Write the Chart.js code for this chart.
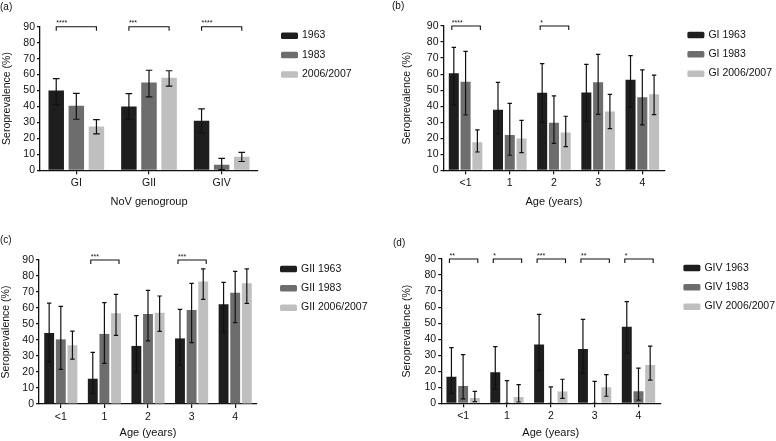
<!DOCTYPE html>
<html>
<head>
<meta charset="utf-8">
<script src="https://cdn.jsdelivr.net/npm/chart.js@4.4.1/dist/chart.umd.min.js"></script>
<style>
  html, body { margin: 0; padding: 0; background: #fff; }
  body { width: 776px; height: 441px; position: relative; overflow: hidden; }
  canvas { position: absolute; }
</style>
</head>
<body>
<canvas id="chartA" width="388" height="218" style="left:0;top:0"></canvas>
<canvas id="chartB" width="388" height="218" style="left:388px;top:0"></canvas>
<canvas id="chartC" width="388" height="223" style="left:0;top:218px"></canvas>
<canvas id="chartD" width="388" height="223" style="left:388px;top:218px"></canvas>
<script>
// panel (a): by genogroup
const genogroups = ['GI', 'GII', 'GIV'];
const a1963 = [50, 40, 31];
const a1963Lo = [41, 32, 23.5];
const a1963Hi = [57.5, 48, 38.5];
const a1983 = [40.5, 55, 3.5];
const a1983Lo = [32, 46, 0.5];
const a1983Hi = [48.2, 62.7, 7.5];
const a2006 = [27.5, 58, 8.5];
const a2006Lo = [22.8, 52.8, 5.5];
const a2006Hi = [31.8, 62.4, 11.2];
const aSig = ['****', '***', '****'];

// age groups used by (b), (c), (d)
const ages = ['<1', '1', '2', '3', '4'];

// panel (b): GI
const b1963 = [60.5, 37.8, 48.4, 48.6, 56.5];
const b1963Lo = [40.7, 22.5, 29.9, 30.4, 39.3];
const b1963Hi = [76.7, 54.9, 66.5, 66.1, 71.5];
const b1983 = [55.3, 22, 29.7, 54.9, 45.5];
const b1983Lo = [34.5, 9.4, 16.8, 34.9, 28.3];
const b1983Hi = [74.2, 41.8, 46.4, 72.3, 62.6];
const b2006 = [17.5, 19.8, 23.5, 36.6, 47.4];
const b2006Lo = [11.4, 11, 14.8, 26, 34.7];
const b2006Hi = [25.2, 31.2, 33.7, 47.4, 59.3];
const bSig = ['****', '', '*', '', ''];

// panel (c): GII
const c1963 = [44.4, 15.8, 36.3, 41, 62.3];
const c1963Lo = [26.3, 6.5, 19.8, 24.2, 44.8];
const c1963Hi = [63.1, 32.3, 55.2, 59.2, 76];
const c1983 = [40.4, 43.8, 56.3, 58.8, 69.6];
const c1983Lo = [21.7, 25.4, 39.4, 38.3, 50.8];
const c1983Hi = [61, 63.3, 71, 75.4, 82.9];
const c2006 = [36.7, 56.7, 57.1, 76.5, 75.4];
const c2006Lo = [28.1, 42.9, 45.4, 65.4, 62.9];
const c2006Hi = [45.6, 68.5, 67.5, 84.4, 84.4];
const cSig = ['', '***', '', '***', ''];

// panel (d): GIV
const d1963 = [16.6, 19.3, 36.6, 33.9, 47.8];
const d1963Lo = [6, 8.7, 20.4, 18.7, 31.2];
const d1963Hi = [34.7, 35.3, 55.5, 52.4, 63.4];
const d1983 = [10.8, 0, 0, 0, 7.5];
const d1983Lo = [2.7, 0, 0, 0, 2];
const d1983Hi = [30.4, 14.1, 10.2, 13.7, 22];
const d2006 = [3.3, 4, 7.3, 10, 23.9];
const d2006Lo = [1, 0.8, 3.1, 4.4, 14.5];
const d2006Hi = [7.5, 11.6, 15, 17.9, 35.6];
const dSig = ['**', '*', '***', '**', '*'];

const barColors = ['#1e1e1e', '#6d6d6d', '#bfbfbf'];
const ink = '#111';
const fontFamily = '"Liberation Sans", Arial, Helvetica, sans-serif';

const errorBars = {
    id: 'errorBars',
    afterDatasetsDraw(chart, args, opts) {
        const { ctx } = chart;
        const yScale = chart.scales.y;
        ctx.save();
        ctx.strokeStyle = ink;
        ctx.lineWidth = 1.2;
        chart.data.datasets.forEach((ds, di) => {
            chart.getDatasetMeta(di).data.forEach((bar, i) => {
                const yLo = yScale.getPixelForValue(ds.errLo[i]);
                const yHi = yScale.getPixelForValue(ds.errHi[i]);
                ctx.beginPath();
                ctx.moveTo(bar.x, yLo);
                ctx.lineTo(bar.x, yHi);
                ctx.moveTo(bar.x - opts.cap, yHi);
                ctx.lineTo(bar.x + opts.cap, yHi);
                ctx.moveTo(bar.x - opts.cap, yLo);
                ctx.lineTo(bar.x + opts.cap, yLo);
                ctx.stroke();
            });
        });
        ctx.restore();
    }
};

const sigBrackets = {
    id: 'sigBrackets',
    afterDatasetsDraw(chart, args, opts) {
        const { ctx } = chart;
        const y = chart.scales.y.getPixelForValue(90);
        const first = chart.getDatasetMeta(0).data;
        const last = chart.getDatasetMeta(2).data;
        ctx.save();
        ctx.strokeStyle = ink;
        ctx.fillStyle = ink;
        ctx.lineWidth = 1.1;
        ctx.font = `7px ${fontFamily}`;
        ctx.textAlign = 'left';
        ctx.textBaseline = 'alphabetic';
        opts.marks.forEach((mark, i) => {
            if (!mark) return;
            const x1 = first[i].x + opts.inset[0];
            const x2 = last[i].x + opts.inset[1];
            ctx.beginPath();
            ctx.moveTo(x1, y + 4);
            ctx.lineTo(x1, y);
            ctx.lineTo(x2, y);
            ctx.lineTo(x2, y + 4);
            ctx.stroke();
            ctx.fillText(mark, x1, y - 1.5);
        });
        ctx.restore();
    }
};

const sideLegend = {
    id: 'sideLegend',
    afterDraw(chart) {
        const { ctx, chartArea } = chart;
        ctx.save();
        ctx.font = `10.5px ${fontFamily}`;
        ctx.textBaseline = 'middle';
        ctx.textAlign = 'left';
        chart.data.datasets.forEach((ds, i) => {
            const x = chartArea.right + 23;
            const y = chartArea.top + 8.7 + i * 19.4;
            ctx.fillStyle = ds.backgroundColor;
            ctx.beginPath();
            ctx.roundRect(x, y - 3, 17, 6.5, 1.5);
            ctx.fill();
            ctx.fillStyle = ink;
            ctx.fillText(ds.label, x + 21, y);
        });
        ctx.restore();
    }
};

const panelTag = {
    id: 'panelTag',
    afterDraw(chart, args, opts) {
        const { ctx } = chart;
        ctx.save();
        ctx.font = `10px ${fontFamily}`;
        ctx.fillStyle = ink;
        ctx.textBaseline = 'middle';
        ctx.fillText(opts.text, opts.x, opts.y);
        ctx.restore();
    }
};

const makePanel = (id, cfg) => {
    const ctx = document.getElementById(id).getContext('2d');
    const datasets = cfg.series.map((s, i) => ({
        label: s.label,
        data: s.values,
        errLo: s.lo,
        errHi: s.hi,
        backgroundColor: barColors[i],
        borderWidth: 0,
        categoryPercentage: cfg.catPct,
        barPercentage: cfg.barPct
    }));
    const tickFont = { family: fontFamily, size: 10.5 };
    return new Chart(ctx, {
        type: 'bar',
        data: { labels: cfg.labels, datasets },
        options: {
            responsive: false,
            animation: false,
            layout: { padding: { left: 0, top: cfg.top, right: cfg.right, bottom: 0 } },
            plugins: {
                legend: { display: false },
                tooltip: { enabled: false },
                errorBars: { cap: cfg.cap },
                sigBrackets: { marks: cfg.sig, inset: cfg.inset },
                panelTag: cfg.tag
            },
            scales: {
                x: {
                    grid: { display: true, offset: false, drawOnChartArea: false, drawTicks: true, tickLength: 4, color: ink, lineWidth: 1.2 },
                    border: { display: true, color: ink, width: 1.3 },
                    ticks: { color: ink, font: tickFont, padding: 3 },
                    title: { display: true, text: cfg.xTitle, color: ink, font: { family: fontFamily, size: 11 }, padding: { top: 0, bottom: cfg.xTitlePad } },
                    afterFit: (scale) => { scale.height = cfg.xHeight; }
                },
                y: {
                    min: 0,
                    max: 90,
                    grid: { display: true, drawOnChartArea: false, drawTicks: true, tickLength: 3, color: ink, lineWidth: 1.2 },
                    border: { display: true, color: ink, width: 1.3 },
                    ticks: { stepSize: 10, color: ink, font: tickFont, padding: 2 },
                    title: { display: true, text: 'Seroprevalence (%)', color: ink, font: { family: fontFamily, size: 10.5 }, padding: { top: cfg.yTitlePad, bottom: 0 } },
                    afterFit: (scale) => { scale.width = cfg.yWidth; }
                }
            }
        },
        plugins: [errorBars, sigBrackets, sideLegend, panelTag]
    });
};

makePanel('chartA', {
    labels: genogroups,
    series: [
        { label: '1963', values: a1963, lo: a1963Lo, hi: a1963Hi },
        { label: '1983', values: a1983, lo: a1983Lo, hi: a1983Hi },
        { label: '2006/2007', values: a2006, lo: a2006Lo, hi: a2006Hi }
    ],
    sig: aSig, inset: [0, 0],
    xTitle: 'NoV genogroup',
    catPct: 0.83, barPct: 0.77, cap: 3.3,
    top: 26.7, right: 130, xHeight: 47.7, yWidth: 40,
    xTitlePad: 9.5, yTitlePad: 1,
    tag: { text: '(a)', x: 0, y: 7 }
});

makePanel('chartB', {
    labels: ages,
    series: [
        { label: 'GI 1963', values: b1963, lo: b1963Lo, hi: b1963Hi },
        { label: 'GI 1983', values: b1983, lo: b1983Lo, hi: b1983Hi },
        { label: 'GI 2006/2007', values: b2006, lo: b2006Lo, hi: b2006Hi }
    ],
    sig: bSig, inset: [-2, 3],
    xTitle: 'Age (years)',
    catPct: 0.8, barPct: 0.85, cap: 2.2,
    top: 26, right: 111.6, xHeight: 47.7, yWidth: 55.5,
    xTitlePad: 9.5, yTitlePad: 13,
    tag: { text: '(b)', x: 4, y: 6 }
});

makePanel('chartC', {
    labels: ages,
    series: [
        { label: 'GII 1963', values: c1963, lo: c1963Lo, hi: c1963Hi },
        { label: 'GII 1983', values: c1983, lo: c1983Lo, hi: c1983Hi },
        { label: 'GII 2006/2007', values: c2006, lo: c2006Lo, hi: c2006Hi }
    ],
    sig: cSig, inset: [-2, 3],
    xTitle: 'Age (years)',
    catPct: 0.8, barPct: 0.85, cap: 2.2,
    top: 42, right: 131, xHeight: 37, yWidth: 39,
    xTitlePad: 1, yTitlePad: 0,
    tag: { text: '(c)', x: 0, y: 22 }
});

makePanel('chartD', {
    labels: ages,
    series: [
        { label: 'GIV 1963', values: d1963, lo: d1963Lo, hi: d1963Hi },
        { label: 'GIV 1983', values: d1983, lo: d1983Lo, hi: d1983Hi },
        { label: 'GIV 2006/2007', values: d2006, lo: d2006Lo, hi: d2006Hi }
    ],
    sig: dSig, inset: [-2, 3],
    xTitle: 'Age (years)',
    catPct: 0.8, barPct: 0.85, cap: 2.2,
    top: 41, right: 115.6, xHeight: 37.7, yWidth: 53.2,
    xTitlePad: 1, yTitlePad: 13,
    tag: { text: '(d)', x: 5, y: 25 }
});
</script>
</body>
</html>
